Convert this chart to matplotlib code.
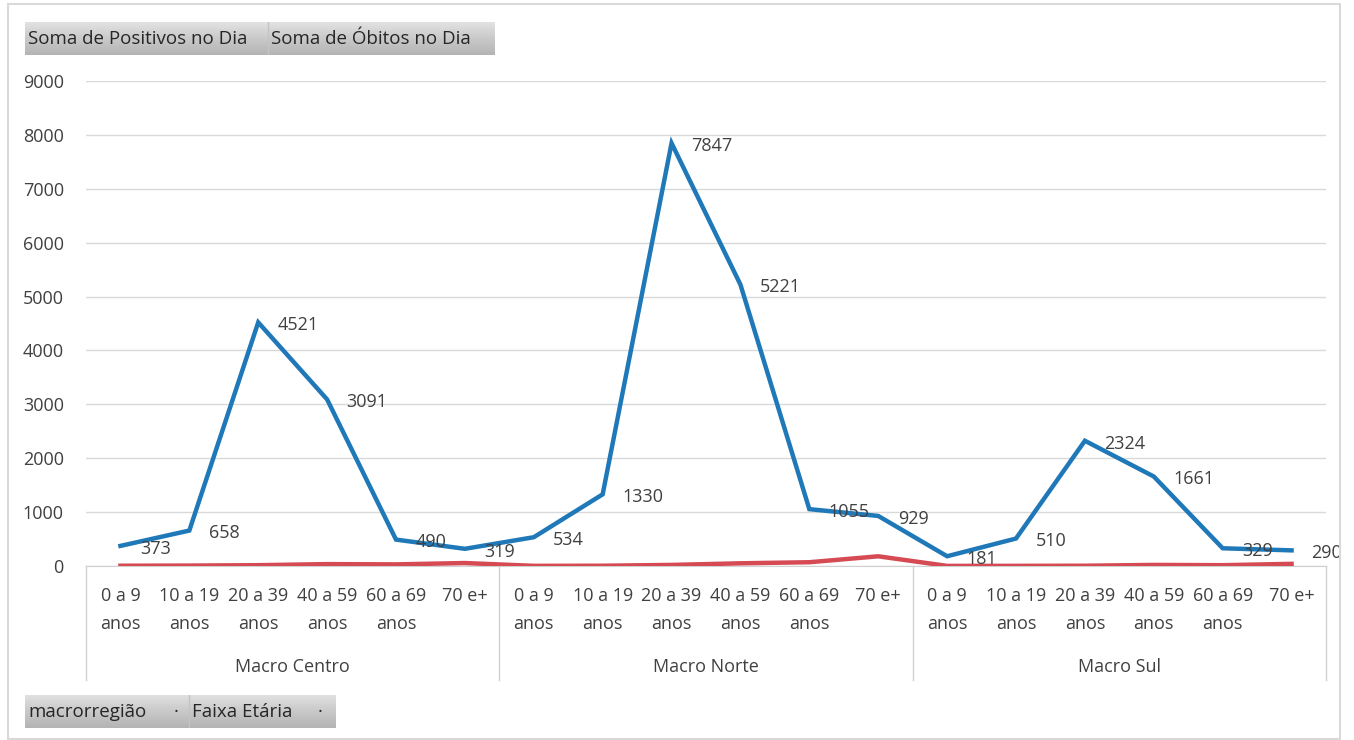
import numpy as np
import matplotlib.pyplot as plt
from matplotlib.patches import Rectangle
from matplotlib.lines import Line2D
from matplotlib.colors import LinearSegmentedColormap

plt.rcParams['font.family'] = ['Open Sans', 'DejaVu Sans']

regioes = ["Macro Centro", "Macro Norte", "Macro Sul"]
faixas = ["0 a 9\nanos", "10 a 19\nanos", "20 a 39\nanos", "40 a 59\nanos", "60 a 69\nanos", "70 e+"]
positivos = [373, 658, 4521, 3091, 490, 319,
             534, 1330, 7847, 5221, 1055, 929,
             181, 510, 2324, 1661, 329, 290]
obitos = [5, 8, 15, 35, 30, 55,
          3, 5, 20, 50, 70, 180,
          2, 3, 5, 20, 15, 40]

W, H = 1354, 740
fig = plt.figure(figsize=(W / 100, H / 100), dpi=100)

def fx(px):
    return px / W

def fy(py):
    return 1 - py / H

ax = fig.add_axes([fx(86), fy(566), fx(1326) - fx(86), fy(81) - fy(566)])
x = np.arange(len(positivos))
ax.plot(x, positivos, color='#1f78b8', lw=3.2, solid_joinstyle='miter', zorder=3)
ax.plot(x, obitos, color='#d54a53', lw=3.2, zorder=3)
for xi, v in zip(x, positivos):
    ax.annotate(str(v), (xi, v), xytext=(14, -2), textcoords='offset points',
                ha='left', va='center', fontsize=13, color='#404040', zorder=4)

ax.set_xlim(-0.5, len(x) - 0.5)
ax.set_ylim(0, 9000)
ax.set_yticks(range(0, 9001, 1000))
ax.tick_params(axis='y', length=0, labelsize=13, labelcolor='#404040', pad=16)
ax.set_xticks([])
ax.grid(axis='y', color='#d9d9d9', lw=1)
ax.set_axisbelow(True)
for s in ['top', 'right', 'left']:
    ax.spines[s].set_visible(False)
ax.spines['bottom'].set_color('#d0d0d0')

# category labels and group separators
tr = ax.get_xaxis_transform()
for i, lab in enumerate(faixas * len(regioes)):
    ax.text(i, -0.043, lab, transform=tr, ha='center', va='top', fontsize=13,
            color='#404040', linespacing=1.75)
for g, reg in enumerate(regioes):
    ax.text(g * 6 + 2.5, -0.19, reg, transform=tr, ha='center', va='top',
            fontsize=13, color='#404040')
for b in [-0.5, 5.5, 11.5, 17.5]:
    ax.add_line(Line2D([b, b], [0, -0.235], transform=tr, color='#d0d0d0',
                       lw=1, clip_on=False))

# outer frame
fig.add_artist(Rectangle((fx(8), fy(739)), fx(1340) - fx(8), fy(4) - fy(739),
                         transform=fig.transFigure, fill=False,
                         edgecolor='#d9d9d9', lw=1.5))

# field buttons
cinza = LinearSegmentedColormap.from_list('cinza', ['#e2e2e2', '#c9c9c9', '#b4b4b4'])
grad = np.linspace(0, 1, 50).reshape(-1, 1)

def botao(x0, x1, y0, y1, seps, textos):
    bax = fig.add_axes([fx(x0), fy(y1), fx(x1) - fx(x0), fy(y0) - fy(y1)])
    bax.imshow(grad, aspect='auto', cmap=cinza, extent=[x0, x1, y1, y0])
    bax.set_xlim(x0, x1)
    bax.set_ylim(y1, y0)
    bax.axis('off')
    for s in seps:
        bax.plot([s, s], [y0, y1], color='#c4c4c4', lw=1)
    for tx, t in textos:
        bax.text(tx, (y0 + y1) / 2 + 1, t, ha='left', va='center',
                 fontsize=13.5, color='#262626')

botao(25, 495, 22, 55, [268],
      [(28, "Soma de Positivos no Dia"), (271, "Soma de Óbitos no Dia")])
botao(25, 335, 695, 728, [189],
      [(28, "macrorregião"), (174, "·"), (192, "Faixa Etária"), (318, "·")])

fig.savefig('out.png', dpi=100)
